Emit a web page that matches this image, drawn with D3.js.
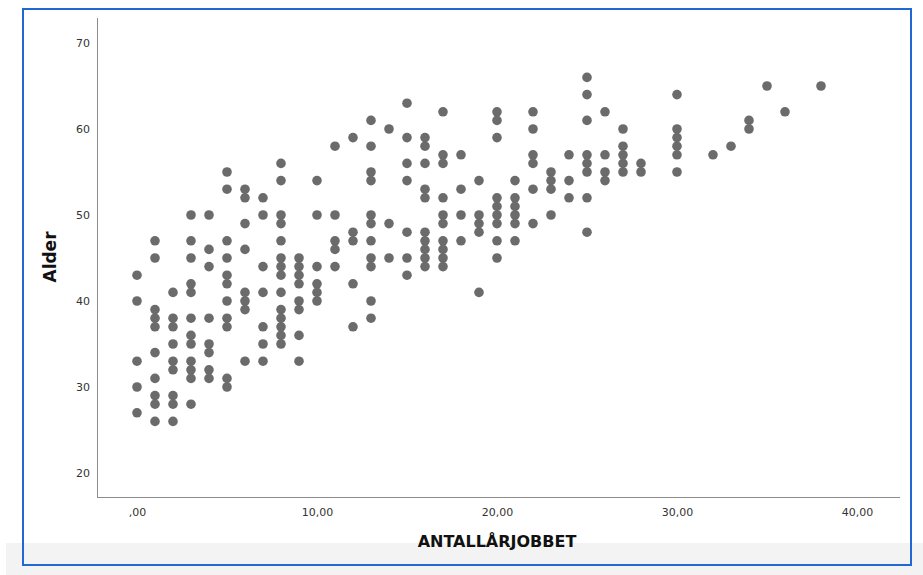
<!DOCTYPE html>
<html>
<head>
<meta charset="utf-8">
<script src="https://cdn.jsdelivr.net/npm/d3@7"></script>
<style>
  body { margin: 0; background: #fff; }
  .tick text { font-family: "DejaVu Sans", sans-serif; font-size: 11px; fill: #333; }
</style>
</head>
<body>
<script>
// values, one line per x-column
var antalAr = [
  0,0,0,0,0,
  1,1,1,1,1,1,1,1,1,1,
  2,2,2,2,2,2,2,2,2,
  3,3,3,3,3,3,3,3,3,3,3,3,
  4,4,4,4,4,4,4,4,
  5,5,5,5,5,5,5,5,5,5,5,
  6,6,6,6,6,6,6,6,
  7,7,7,7,7,7,7,
  8,8,8,8,8,8,8,8,8,8,8,8,8,8,
  9,9,9,9,9,9,9,9,
  10,10,10,10,10,10,
  11,11,11,11,11,
  12,12,12,12,12,
  13,13,13,13,13,13,13,13,13,13,13,
  14,14,14,
  15,15,15,15,15,15,15,
  16,16,16,16,16,16,16,16,16,16,
  17,17,17,17,17,17,17,17,17,17,
  18,18,18,18,
  19,19,19,19,19,
  20,20,20,20,20,20,20,20,20,
  21,21,21,21,21,21,
  22,22,22,22,22,22,
  23,23,23,23,
  24,24,24,
  25,25,25,25,25,25,25,25,
  26,26,26,26,
  27,27,27,27,27,
  28,28,
  30,30,30,30,30,30,
  32,
  33,
  34,34,
  35,
  36,
  38
];
var alder = [
  43,40,33,30,27,
  47,45,39,38,37,34,31,29,28,26,
  41,38,37,35,33,32,29,28,26,
  50,47,45,42,41,38,36,35,33,32,31,28,
  50,46,44,38,35,34,32,31,
  55,53,47,45,43,42,40,38,37,31,30,
  53,52,49,46,41,40,39,33,
  52,50,44,41,37,35,33,
  56,54,50,49,47,45,44,43,41,39,38,37,36,35,
  45,44,43,42,40,39,36,33,
  54,50,44,42,41,40,
  58,50,47,46,44,
  59,48,47,42,37,
  61,58,55,54,50,49,47,45,44,40,38,
  60,49,45,
  63,59,56,54,48,45,43,
  59,58,56,53,52,48,47,46,45,44,
  62,57,56,52,50,49,47,46,45,44,
  57,53,50,47,
  54,50,49,48,41,
  62,61,59,52,51,50,49,47,45,
  54,52,51,50,49,47,
  62,60,57,56,53,49,
  55,54,53,50,
  57,54,52,
  66,64,61,57,56,55,52,48,
  62,57,55,54,
  60,58,57,56,55,
  56,55,
  64,60,59,58,57,55,
  57,
  58,
  61,60,
  65,
  62,
  65
];
var xTicks = [0, 10, 20, 30, 40];
var yTicks = [20, 30, 40, 50, 60, 70];

var w = 923, h = 575;
var plotLeft = 97, plotRight = 900, plotTop = 18, plotBottom = 497;

var svg = d3.select("body").append("svg")
  .attr("width", w)
  .attr("height", h);

// grey strip at the bottom and blue selection frame
svg.append("rect")
  .attr("x", 6).attr("y", 543).attr("width", w - 6).attr("height", h - 543)
  .attr("fill", "#f3f3f3");
svg.append("rect")
  .attr("x", 23).attr("y", 9).attr("width", 888).attr("height", 556)
  .attr("fill", "none")
  .attr("stroke", "#2069d4")
  .attr("stroke-width", 2);

var xScale = d3.scaleLinear()
  .domain([-2.222, 42.389])
  .range([plotLeft, plotRight]);

var yScale = d3.scaleLinear()
  .domain([17.209, 72.907])
  .range([plotBottom, plotTop]);

var xAxis = d3.axisBottom(xScale)
  .tickValues(xTicks)
  .tickSize(0)
  .tickPadding(11)
  .tickFormat(function(d) { return d === 0 ? ",00" : d + ",00"; });

var yAxis = d3.axisLeft(yScale)
  .tickValues(yTicks)
  .tickSize(0)
  .tickPadding(7)
  .tickFormat(d3.format("d"));

var gx = svg.append("g")
  .attr("transform", "translate(0," + plotBottom + ")")
  .call(xAxis);
gx.select(".domain").attr("stroke", "#8c8c8c").attr("d", "M" + plotLeft + ",0.5H" + plotRight);

var gy = svg.append("g")
  .attr("transform", "translate(" + plotLeft + ",0)")
  .call(yAxis);
gy.select(".domain").attr("stroke", "#8c8c8c").attr("d", "M0.5," + plotTop + "V" + plotBottom);

svg.selectAll("circle")
  .data(alder)
  .enter()
  .append("circle")
  .attr("cx", function(d, i) { return xScale(antalAr[i]); })
  .attr("cy", function(d) { return yScale(d); })
  .attr("r", 4.8)
  .attr("fill", "#6b6b6b");

// axis titles
svg.append("text")
  .attr("x", 497)
  .attr("y", 547)
  .attr("text-anchor", "middle")
  .style("font-family", "DejaVu Sans, sans-serif")
  .style("font-weight", "bold")
  .style("font-size", "16px")
  .style("fill", "#111")
  .text("ANTALLÅRJOBBET");

svg.append("text")
  .attr("transform", "translate(56,257) rotate(-90)")
  .attr("text-anchor", "middle")
  .style("font-family", "DejaVu Sans, sans-serif")
  .style("font-weight", "bold")
  .style("font-size", "17px")
  .style("fill", "#111")
  .text("Alder");
</script>
</body>
</html>
